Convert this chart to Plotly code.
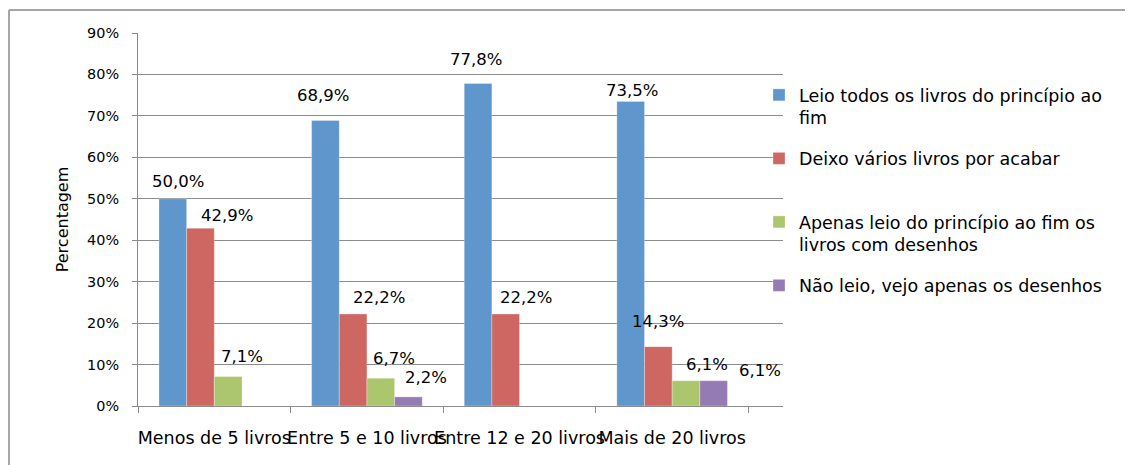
import plotly.graph_objects as go

categories = ["Menos de 5 livros", "Entre 5 e 10 livros", "Entre 12 e 20 livros", "Mais de 20 livros"]
series_names = [
    "Leio todos os livros do princípio ao<br>fim",
    "Deixo vários livros por acabar<br> ",
    "Apenas leio do princípio ao fim os<br>livros com desenhos",
    "Não leio, vejo apenas os desenhos<br> ",
]
leio_todos = [50.0, 68.9, 77.8, 73.5]
deixo_varios = [42.9, 22.2, 22.2, 14.3]
apenas_desenhos = [7.1, 6.7, None, 6.1]
nao_leio = [None, 2.2, None, 6.1]
y_ticks = [0, 10, 20, 30, 40, 50, 60, 70, 80, 90]
colors = ["#5f96cc", "#ce6762", "#abc66c", "#957bb4"]

# label offsets (px): dx relative to bar centre, dy above bar top
label_dx = [[8, 0, 0, 4], [27, 27, 21, 0], [13, 12, 0, 20], [0, 15, 0, 44]]
label_dy = [[17, 25, 24, 11], [13, 16, 16, 25], [20, 20, 0, 16], [0, 19, 0, 10]]

values = [leio_todos, deixo_varios, apenas_desenhos, nao_leio]
FONT = "DejaVu Sans"

fig = go.Figure()
for i, (name, vals) in enumerate(zip(series_names, values)):
    fig.add_trace(go.Bar(
        x=categories, y=vals, name=name, legendgroup=str(i),
        marker=dict(color=colors[i], line=dict(color="rgba(255,255,255,0.6)", width=0.5)),
        hoverinfo="skip",
    ))

# page has an 8px body margin; work in figure coordinates
OFF = 8
W, H = 1133 - OFF, 465 - OFF
plot_l, plot_r, plot_t, plot_b = 138 - OFF, 783 - OFF, 33 - OFF, 406 - OFF
pw, ph = plot_r - plot_l, plot_b - plot_t
cat_w = pw / len(categories)
bargap = 0.275
bar_w = cat_w * (1 - bargap) / 4

annotations = []
for i, vals in enumerate(values):
    off = (i - 1.5) * bar_w
    for j, v in enumerate(vals):
        if v is None:
            continue
        annotations.append(dict(
            x=categories[j], y=v, xref="x", yref="y",
            text=f"{v:.1f}%".replace(".", ","),
            showarrow=False, xanchor="center", yanchor="middle",
            xshift=off + label_dx[i][j], yshift=label_dy[i][j],
            font=dict(family=FONT, size=16.5, color="#000000"),
        ))

bx = (9 - OFF - plot_l) / pw
by = (plot_b - (10 - OFF)) / ph
shapes = [
    dict(type="line", xref="paper", yref="paper", x0=bx, x1=3, y0=by, y1=by,
         line=dict(color="#a6a6a6", width=2), layer="below"),
    dict(type="line", xref="paper", yref="paper", x0=bx, x1=bx, y0=-3, y1=by,
         line=dict(color="#a6a6a6", width=2), layer="below"),
]

fig.update_layout(
    width=W, height=H,
    margin=dict(l=plot_l, r=W - plot_r, t=plot_t, b=H - plot_b, pad=0, autoexpand=False),
    paper_bgcolor="white", plot_bgcolor="white",
    barmode="group", bargap=bargap, bargroupgap=0,
    font=dict(family=FONT, size=14, color="#000000"),
    annotations=annotations, shapes=shapes,
    legend=dict(
        x=(759 - OFF - plot_l) / pw, xanchor="left", y=(plot_b - (77 - OFF)) / ph, yanchor="top",
        font=dict(family=FONT, size=17.5, color="#000000"),
        valign="top", tracegroupgap=15, bgcolor="rgba(0,0,0,0)",
        itemclick=False, itemdoubleclick=False,
    ),
    xaxis=dict(
        type="category", showgrid=False, showline=True, linecolor="#8c8c8c", linewidth=1,
        ticks="outside", tickson="boundaries", ticklen=6, tickcolor="#8c8c8c",
        tickangle=0, automargin=False, ticklabelstandoff=16,
        tickfont=dict(family=FONT, size=17.5), fixedrange=True,
    ),
    yaxis=dict(
        range=[0, 90], tickvals=y_ticks, ticktext=[f"{t}%" for t in y_ticks],
        showgrid=True, gridcolor="#8c8c8c", gridwidth=1, zeroline=False,
        showline=True, linecolor="#8c8c8c", linewidth=1,
        ticks="outside", ticklen=5, tickcolor="#8c8c8c",
        automargin=False, ticklabelstandoff=10,
        tickfont=dict(family=FONT, size=14.4), fixedrange=True,
        title=dict(text="Percentagem", font=dict(family=FONT, size=16), standoff=14),
    ),
)

fig.write_html("out.html", config={"displayModeBar": False},
               post_script="document.body.style.overflow='hidden';")
